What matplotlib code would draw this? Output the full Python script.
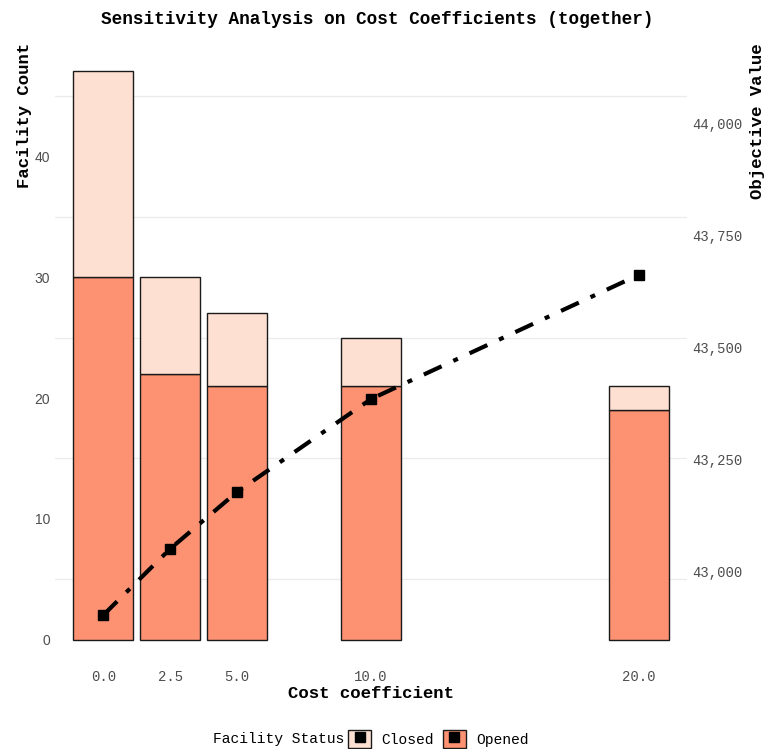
import matplotlib
matplotlib.use("Agg")
import matplotlib.pyplot as plt
from matplotlib.patches import Patch
from matplotlib.lines import Line2D
from matplotlib.legend_handler import HandlerTuple
from matplotlib.ticker import FuncFormatter

# datos
coef = [0.0, 2.5, 5.0, 10.0, 20.0]
abiertas = [30, 22, 21, 21, 19]
cerradas = [17, 8, 6, 4, 2]
objetivo = [42903, 43051, 43178, 43385, 43662]
etiquetas_x = ["0.0", "2.5", "5.0", "10.0", "20.0"]

c_abierta = "#FC9272"
c_cerrada = "#FEE0D2"
mono = "Liberation Mono"
gris = "#4D4D4D"

fig = plt.figure(figsize=(7.66, 7.49), dpi=100)
ax = fig.add_axes([55 / 766, 0.1076, (687 - 55) / 766, 0.9427 - 0.1076])

ax.bar(coef, abiertas, width=2.25, color=c_abierta, edgecolor="#1a1a1a", linewidth=1, zorder=2)
ax.bar(coef, cerradas, bottom=abiertas, width=2.25, color=c_cerrada, edgecolor="#1a1a1a",
       linewidth=1, zorder=2)

ax.set_xlim(-1.8, 21.8)
ax.set_ylim(-2.35, 49.35)
ax.set_yticks([0, 10, 20, 30, 40])
ax.set_yticks([5, 15, 25, 35, 45], minor=True)
ax.grid(which="minor", axis="y", color="#EBEBEB", linewidth=0.9, zorder=0)
ax.set_axisbelow(True)
ax.set_xticks(coef)
ax.set_xticklabels(etiquetas_x, fontfamily=mono, fontsize=10, color=gris)
for t in ax.get_yticklabels():
    t.set_fontfamily("Liberation Sans")
    t.set_fontsize(10)
    t.set_color(gris)
ax.tick_params(which="both", length=0)
ax.tick_params(axis="x", pad=1.5)
ax.tick_params(axis="y", pad=3.5)
for s in ax.spines.values():
    s.set_visible(False)

ax.set_xlabel("Cost coefficient", fontfamily=mono, fontweight="bold", fontsize=12.5, labelpad=1)
ax.set_ylabel("Facility Count", fontfamily=mono, fontweight="bold", fontsize=12.5, loc="top",
              labelpad=2)

ax2 = ax.twinx()
ax2.plot(coef, objetivo, color="black", linewidth=3, linestyle=(0, (4.7, 3.1, 1.2, 3.1)),
         marker="s", markersize=7, dash_capstyle="butt", zorder=3)
ax2.set_ylim(42847.7 - 26.98 * 2.35, 42847.7 + 26.98 * 49.35)
ax2.set_yticks([43000, 43250, 43500, 43750, 44000])
ax2.yaxis.set_major_formatter(FuncFormatter(lambda v, p: f"{v:,.0f}"))
for t in ax2.get_yticklabels():
    t.set_fontfamily(mono)
    t.set_fontsize(10)
    t.set_color(gris)
ax2.tick_params(length=0, pad=4)
for s in ax2.spines.values():
    s.set_visible(False)
ax2.set_ylabel("Objective Value", fontfamily=mono, fontweight="bold", fontsize=12.5, loc="top",
               labelpad=5)

fig.text(377 / 766, 1 - 19 / 749, "Sensitivity Analysis on Cost Coefficients (together)",
         ha="center", va="center", fontfamily=mono, fontweight="bold", fontsize=12.8)

# leyenda abajo
fig.text(213 / 766, 1 - 739 / 749, "Facility Status", ha="left", va="center",
         fontfamily=mono, fontsize=10.5)
h_cerr = (Patch(facecolor=c_cerrada, edgecolor="#1a1a1a", linewidth=1),
          Line2D([], [], marker="s", color="black", linestyle="none", markersize=7))
h_abie = (Patch(facecolor=c_abierta, edgecolor="#1a1a1a", linewidth=1),
          Line2D([], [], marker="s", color="black", linestyle="none", markersize=7))
fig.legend([h_cerr, h_abie], ["Closed", "Opened"], ncol=2, frameon=False,
           loc="center left", bbox_to_anchor=(348 / 766, 1 - 739 / 749),
           borderpad=0, borderaxespad=0, handlelength=1.6, handleheight=1.6,
           handletextpad=0.7, columnspacing=0.6,
           handler_map={tuple: HandlerTuple(ndivide=1)},
           prop={"family": mono, "size": 10.5})

fig.savefig("out.png", dpi=100)
